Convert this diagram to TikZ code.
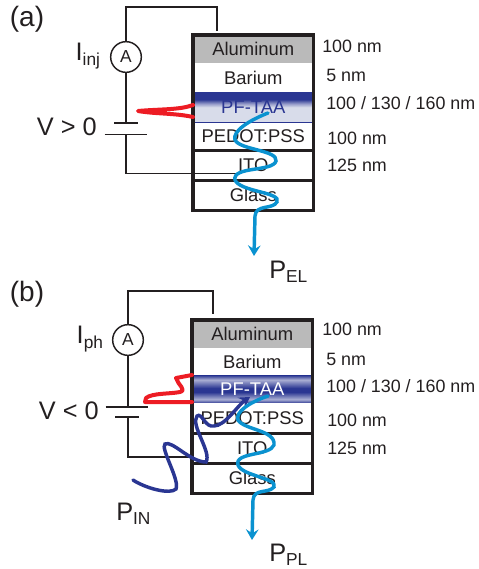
\documentclass[tikz,border=0pt]{standalone}
\usepackage{fontspec}
\setmainfont{Liberation Sans}
\usetikzlibrary{arrows.meta,positioning,calc}
\definecolor{alugray}{RGB}{186,186,186}
\definecolor{pfblue}{RGB}{42,54,146}
\definecolor{pfpale}{RGB}{216,220,234}
\definecolor{beamblue}{RGB}{10,146,208}
\definecolor{redwire}{RGB}{237,28,36}
\definecolor{inkgray}{RGB}{35,31,32}
\pgfdeclareverticalshading{pfglow}{100bp}{color(0bp)=(pfblue);color(25bp)=(pfblue);color(32bp)=(pfblue!40!white);color(45bp)=(pfblue);color(52bp)=(pfblue);color(67bp)=(pfblue!40!white);color(75bp)=(pfblue);color(100bp)=(pfblue)}
\pgfdeclareverticalshading{pffade}{100bp}{color(0bp)=(pfpale);color(50bp)=(pfpale);color(56bp)=(pfblue!50!white);color(63bp)=(pfblue);color(100bp)=(pfblue)}

\begin{document}
\begin{tikzpicture}[x=0.75pt,y=-0.75pt,
  layer/.style={draw=none, minimum width=90pt, minimum height=21pt, inner sep=0pt,
                text=inkgray, font=\fontsize{13.8}{14}\selectfont, anchor=north west},
  tag/.style={text=inkgray, font=\fontsize{13.4}{14}\selectfont, anchor=west, inner sep=0pt},
  big/.style={text=inkgray, font=\fontsize{19}{20}\selectfont, inner sep=0pt},
  meter/.style={circle, draw=inkgray, fill=white, line width=1.1pt, minimum size=23pt, inner sep=0pt,
                text=inkgray, font=\fontsize{13}{14}\selectfont},
  wire/.style={draw=inkgray, line width=1.1pt},
  edge/.style={draw=inkgray, line width=2.6pt},
  seam/.style={draw=inkgray, line width=2pt},
  plate/.style={minimum width=31.5pt, inner sep=0pt, minimum height=0pt},
  beam/.style={draw=beamblue, line width=2.6pt, line cap=round},
  pump/.style={draw=pfblue, line width=2.6pt, line cap=round},
  hole/.style={draw=redwire, line width=3pt, line cap=round, line join=round},
  arr/.style={-{Stealth[length=8pt,width=9.5pt,inset=3pt]}}
]
\useasboundingbox (0,0) rectangle (479,569);

% (a)
\node[big, font=\fontsize{21}{22}\selectfont] (taga) at (27,19) {(a)};
\node[layer, fill=alugray, minimum height=21pt] (alua) at (193,35) {Aluminum};
\node[layer, fill=white, minimum height=21.5pt] (baa) at (193,63) {Barium};
\node[layer, shading=pffade, minimum height=22.5pt, text=pfblue] (pfa) at (193,92) {PF-TAA};
\node[layer, fill=white] (peda) at (193,122) {PEDOT:PSS};
\node[layer, fill=white, minimum height=22.5pt] (itoa) at (193,150) {ITO};
\node[layer, fill=white, minimum height=22.5pt] (glaa) at (193,180) {Glass};
\draw[pfblue, line width=0.8pt] (pfa.south west) -- (pfa.south east);
\draw[edge] (pfa.north west |- alua.north) rectangle (pfa.east |- glaa.south);
\draw[seam] (peda.south west) -- (peda.south east);
\draw[seam] (itoa.south west) -- (itoa.south east);

\node[tag] (dala) at (322,46) {100 nm};
\node[tag] (dbaa) at (326,75) {5 nm};
\node[tag] (dpfa) at (326,103) {100 / 130 / 160 nm};
\node[tag] (dpea) at (327,138) {100 nm};
\node[tag] (ditoa) at (327,165) {125 nm};

\node[meter] (ampa) at (126,57) {A};
\coordinate (topa) at (217,31);
\node[plate] (plusa) at (126,123) {};
\node[plate] (minusa) at (126,134.5) {};
\coordinate (enda) at (237,173.5);
\draw[wire] (ampa) |- (217,7) -- (topa);
\draw[wire] (ampa) -- (plusa.center);
\draw[wire] (minusa.center) |- (enda);
\draw[wire, shorten <=7pt, shorten >=7pt] (plusa.west) -- (plusa.east);
\draw[wire] (minusa.west) -- (minusa.east);
\node[big, anchor=east] (va) at (97,127) {V > 0};
\node[big, anchor=east] (ia) at (101,56) {I\textsubscript{\fontsize{13}{14}\selectfont inj}};

\draw[hole] (pfa.west |- 0,105) .. controls (180,110) and (160,109) .. (138,111)
  .. controls (155,114) and (175,113) .. (pfa.west |- 0,117);
\draw[beam, arr] (268,113) .. controls (250,120) and (232,131) .. (235,140)
  .. controls (240,150) and (278,150) .. (276,161)
  .. controls (273,172) and (232,166) .. (235,180)
  .. controls (240,192) and (282,192) .. (277,202)
  .. controls (272,210) and (256,204) .. (255,216) -- (254,256);
\node[big, anchor=west] (pela) at (269,272) {P\textsubscript{\fontsize{13}{14}\selectfont EL}};

% (b)
\node[big, font=\fontsize{21}{22}\selectfont] (tagb) at (27,294) {(b)};
\node[layer, fill=alugray, minimum height=21pt] (alub) at (192,320) {Aluminum};
\node[layer, fill=white] (bab) at (192,348) {Barium};
\node[layer, shading=pfglow, text=white, minimum height=21pt] (pfb) at (192,375) {PF-TAA};
\node[layer, fill=white, minimum height=22.5pt] (pedb) at (192,403) {PEDOT:PSS};
\node[layer, fill=white, minimum height=22.5pt] (itob) at (192,433) {ITO};
\node[layer, fill=white, minimum height=22.5pt] (glab) at (192,463) {Glass};
\draw[edge] (pfb.north west |- alub.north) rectangle (pfb.east |- glab.south);
\draw[seam] (pedb.south west) -- (pedb.south east);
\draw[seam] (itob.south west) -- (itob.south east);

\node[tag] (dalb) at (322,329) {100 nm};
\node[tag] (dbab) at (326,359) {5 nm};
\node[tag] (dpfb) at (326,386) {100 / 130 / 160 nm};
\node[tag] (dpeb) at (327,420) {100 nm};
\node[tag] (ditob) at (327,448) {125 nm};

\node[meter] (ampb) at (128,340) {A};
\coordinate (topb) at (213,314);
\node[plate] (plusb) at (127,407) {};
\node[plate] (minusb) at (127,417) {};
\coordinate (endb) at (192,457);
\draw[wire] (ampb) |- (213,291) -- (topb);
\draw[wire] (ampb) -- (plusb.center -| ampb);
\draw[wire] (minusb.center -| ampb) |- (endb);
\draw[wire] (plusb.west) -- (plusb.east);
\draw[wire, shorten <=7pt, shorten >=7pt] (minusb.west) -- (minusb.east);
\node[big, anchor=east] (vb) at (99,411) {V < 0};
\node[big, anchor=east] (ib) at (104,339) {I\textsubscript{\fontsize{13}{14}\selectfont ph}};

\draw[hole] (pfb.west |- 0,375) -- (176,378) .. controls (178,385) and (187,390) .. (180,392)
  .. controls (170,394) and (152,393) .. (146,398) -- (145,402) -- (pfb.west |- 0,402);
\draw[pump, arr] (133,480) .. controls (145,488) and (170,495) .. (176,489)
  .. controls (180,480) and (160,448) .. (165,444)
  .. controls (172,440) and (190,462) .. (206,462)
  .. controls (212,452) and (190,425) .. (197,416)
  .. controls (202,412) and (205,428) .. (214,426)
  .. controls (225,426) and (238,405) .. (250,397);
\draw[beam, arr] (268,396) .. controls (250,402) and (235,412) .. (238,420)
  .. controls (244,430) and (276,430) .. (274,445)
  .. controls (270,456) and (234,452) .. (238,465)
  .. controls (242,476) and (278,478) .. (274,487)
  .. controls (268,494) and (254,488) .. (253,500) -- (252,540);
\node[big, anchor=west] (pplb) at (269,555) {P\textsubscript{\fontsize{13}{14}\selectfont PL}};
\node[big, anchor=west] (pinb) at (116,514) {P\textsubscript{\fontsize{13}{14}\selectfont IN}};
\end{tikzpicture}
\end{document}
